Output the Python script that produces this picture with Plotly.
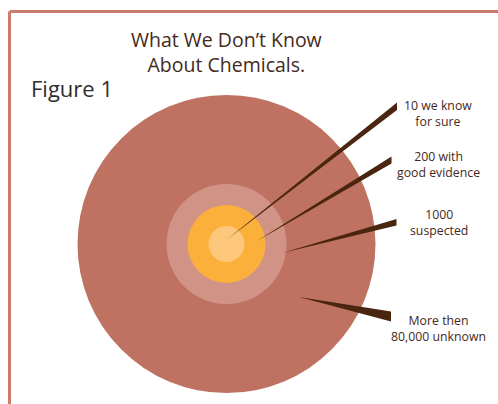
import plotly.graph_objects as go

# Data
labels = ["10 we know<br>for sure", "200 with<br>good evidence", "1000<br>suspected", "More then<br>80,000 unknown"]
counts = [10, 200, 1000, 80000]
ring_radius = [18, 39, 60, 149]          # drawn radius of each ring (px units on chart)
ring_colors = ["#fdc87c", "#fbb03b", "#d09385", "#c07262"]
title_text = "What We Don\u2019t Know<br>About Chemicals."
figure_label = "Figure 1"

center = (226.5, 244)
# pointer wedges: tip point and wide end (x, y_top, y_bottom)
tips = [(227, 239.5), (256, 241.5), (282, 253), (299, 297)]
ends = [(397, 102.5, 110), (391.5, 156.5, 163.5), (396.5, 219, 225.5), (391, 311.5, 321.5)]
label_pos = [(438.3, 113), (438.5, 164.5), (438.8, 222.3), (438.7, 328)]

W, H = 498, 404
fig = go.Figure()
fig.add_trace(go.Scatter(x=[0, W], y=[0, H], mode="markers", marker=dict(opacity=0), hoverinfo="skip", showlegend=False))

shapes = []
# frame
shapes.append(dict(type="line", xref="x", yref="y", x0=9.5, y0=11.5, x1=W + 5, y1=11.5, line=dict(color="#cc7b6e", width=3)))
shapes.append(dict(type="line", xref="x", yref="y", x0=9.5, y0=11.5, x1=9.5, y1=H + 5, line=dict(color="#cc7b6e", width=3)))

# rings from largest to smallest
for r, c in sorted(zip(ring_radius, ring_colors), reverse=True):
    shapes.append(dict(type="circle", xref="x", yref="y", x0=center[0] - r, x1=center[0] + r,
                       y0=center[1] - r, y1=center[1] + r, fillcolor=c, line=dict(width=0), layer="above"))

for (tx, ty), (ex, ey1, ey2) in zip(tips, ends):
    shapes.append(dict(type="path", xref="x", yref="y", path=f"M {tx},{ty} L {ex},{ey1} L {ex},{ey2} Z",
                       fillcolor="#4a250f", line=dict(width=0), layer="above"))

annotations = []
for (lx, ly), lab in zip(label_pos, labels):
    annotations.append(dict(x=lx, y=ly, xref="x", yref="y", text=lab, showarrow=False, xanchor="center", yanchor="middle",
                            font=dict(family="Open Sans", size=12.3, color="#45291b")))
annotations.append(dict(x=226.5, y=51.5, xref="x", yref="y", text=title_text, showarrow=False, xanchor="center", yanchor="middle",
                        font=dict(family="Open Sans", size=19.5, color="#45291a")))
annotations.append(dict(x=29, y=88, xref="x", yref="y", text=figure_label, showarrow=False, xanchor="left", yanchor="middle",
                        font=dict(family="Open Sans", size=22, color="#2e2e2e")))

fig.update_layout(
    width=W, height=H, margin=dict(l=0, r=0, t=0, b=0),
    paper_bgcolor="white", plot_bgcolor="white",
    xaxis=dict(range=[0, W], visible=False, fixedrange=True),
    yaxis=dict(range=[H, 0], visible=False, fixedrange=True),
    shapes=shapes, annotations=annotations, showlegend=False,
)
fig.write_html("out.html")
